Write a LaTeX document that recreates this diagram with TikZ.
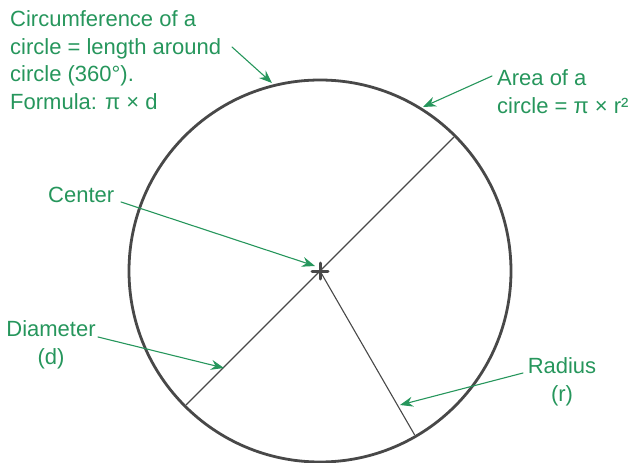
\documentclass[tikz,border=0pt]{standalone}
\usepackage{fontspec}
\setmainfont{Liberation Sans}
\usetikzlibrary{arrows.meta}
\definecolor{labelgreen}{RGB}{38,150,92}
\definecolor{rimgray}{RGB}{72,72,72}

\begin{document}
\begin{tikzpicture}[x=1pt, y=-1pt, line cap=round, line join=round,
    lbl/.style={labelgreen, inner sep=0pt, font=\fontsize{22}{27.5}\selectfont},
    pointer/.style={-{Stealth[length=13pt,width=10pt]}, labelgreen, line width=1.1pt}]

  \useasboundingbox (0,0) rectangle (630,463);

  \def\r{191}   % radius of the circle
  \def\rin{189} % lines stop at the rim

  \coordinate (O) at (320,271);
  \draw[rimgray, line width=2.8pt] (O) circle[radius=\r];

  % diameter and radius
  \path (O) ++(-45:\rin) coordinate (dtop);
  \path (O) ++(135:\rin) coordinate (dbot);
  \path (O) ++(60:\rin) coordinate (rend);
  \draw[rimgray, line width=1.1pt] (dtop) -- (dbot);
  \draw[rimgray, line width=1.1pt] (O) -- (rend);

  % center mark
  \draw[rimgray, line width=3pt] (O) ++(-8,0) -- ++(16,0);
  \draw[rimgray, line width=3pt] (O) ++(0,-8) -- ++(0,16);

  % labels (base = last line)
  \node[lbl, anchor=base west, align=left] (circum) at (10,109)
    {Circumference of a\\circle = length around\\circle (360°).\\Formula: π × d};
  \node[lbl, anchor=base west, align=left] (area) at (497,113)
    {Area of a\\circle = π × r²};
  \node[lbl, anchor=base west] (center) at (48,202) {Center};
  \node[lbl, anchor=base, align=center] (diam) at (51,364) {Diameter\\(d)};
  \node[lbl, anchor=base, align=center] (rad) at (562,401) {Radius\\(r)};

  % pointers
  \coordinate (circumfrom) at (232,47);
  \coordinate (circumto) at (272,83);
  \coordinate (areafrom) at (492,76);
  \coordinate (areato) at (423,107);
  \coordinate (centerfrom) at (121,202);
  \coordinate (centerto) at (315,266);
  \coordinate (diamfrom) at (98,337);
  \coordinate (diamto) at (224,368);
  \coordinate (radfrom) at (523,373);
  \coordinate (radto) at (400,405);

  \draw[pointer] (circumfrom) -- (circumto);
  \draw[pointer] (areafrom) -- (areato);
  \draw[pointer] (centerfrom) -- (centerto);
  \draw[pointer] (diamfrom) -- (diamto);
  \draw[pointer] (radfrom) -- (radto);
\end{tikzpicture}
\end{document}
